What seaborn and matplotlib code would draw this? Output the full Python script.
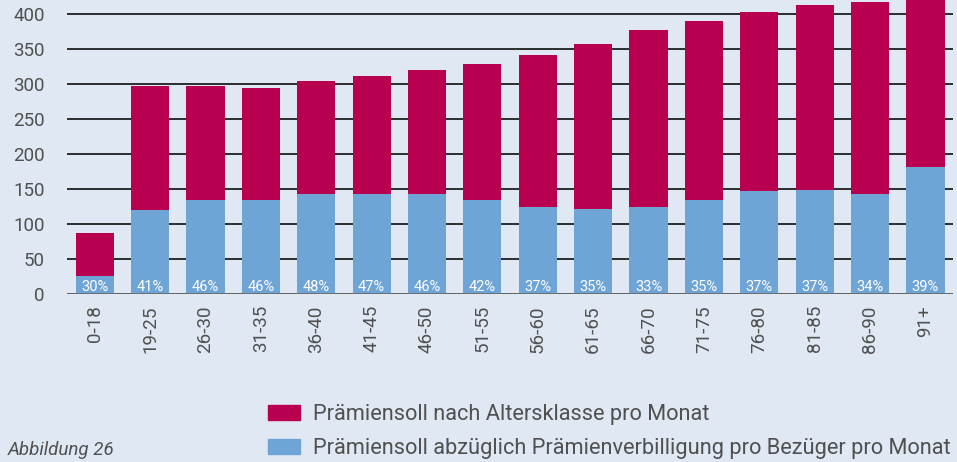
import pandas as pd
import matplotlib
matplotlib.use("Agg")
import matplotlib.pyplot as plt
import seaborn as sns
from matplotlib.patches import Patch

# Data
age_groups = ["0-18", "19-25", "26-30", "31-35", "36-40", "41-45", "46-50", "51-55",
              "56-60", "61-65", "66-70", "71-75", "76-80", "81-85", "86-90", "91+"]
premium_total = [87, 297, 297, 294, 304, 311, 320, 329, 341, 357, 377, 390, 403, 413, 417, 465]
premium_net = [26, 120, 134, 134, 143, 143, 143, 134, 124, 121, 124, 134, 147, 149, 143, 181]
net_share = [30, 41, 46, 46, 48, 47, 46, 42, 37, 35, 33, 35, 37, 37, 34, 39]

label_total = "Prämiensoll nach Altersklasse pro Monat"
label_net = "Prämiensoll abzüglich Prämienverbilligung pro Bezüger pro Monat"

bg = "#dfe8f3"
red = "#b90050"
blue = "#6ea4d6"
grey = "#505050"

sns.set_style("white")
plt.rcParams["font.family"] = ["Roboto", "DejaVu Sans"]

df = pd.DataFrame({"age": age_groups, "total": premium_total, "net": premium_net})

fig = plt.figure(figsize=(9.57, 4.62), dpi=100, facecolor=bg)
ax = fig.add_axes([0.070, 0.3636, 0.926, 0.6364])
ax.set_facecolor(bg)

sns.barplot(data=df, x="age", y="total", color=red, saturation=1, width=0.69,
            linewidth=0, ax=ax, zorder=3)
sns.barplot(data=df, x="age", y="net", color=blue, saturation=1, width=0.69,
            linewidth=0, ax=ax, zorder=4)

# percentage labels at the bottom of the blue bars
for i, p in enumerate(net_share):
    ax.text(i, 10, f"{p}%", ha="center", va="center", color="white", fontsize=10.5, zorder=5)

ax.set_xlim(-0.5, 15.5)
ax.set_ylim(0, 420)
ax.set_yticks(range(0, 401, 50))
ax.yaxis.grid(True, color="#1e1e1e", linewidth=1.3, zorder=0)
ax.set_axisbelow(True)
for s in ax.spines.values():
    s.set_visible(False)
ax.axhline(0, color="#6a6a6a", linewidth=1.3, zorder=6)

ax.set_xlabel("")
ax.set_ylabel("")
ax.tick_params(axis="both", length=0, labelsize=13.5, colors=grey)
ax.tick_params(axis="x", pad=8)
ax.tick_params(axis="y", pad=16)
plt.setp(ax.get_xticklabels(), rotation=90)

handles = [Patch(color=red, label=label_total), Patch(color=blue, label=label_net)]
fig.legend(handles=handles, loc="upper left", bbox_to_anchor=(0.280, 0.126),
           frameon=False, borderpad=0, borderaxespad=0,
           handlelength=1.47, handleheight=0.69,
           handletextpad=0.6, labelspacing=0.6, labelcolor=grey,
           prop={"size": 15.7})

fig.text(0.008, 0.015, "Abbildung 26", fontsize=13.5, style="italic", color=grey)

fig.savefig("out.png", dpi=100, facecolor=bg)
